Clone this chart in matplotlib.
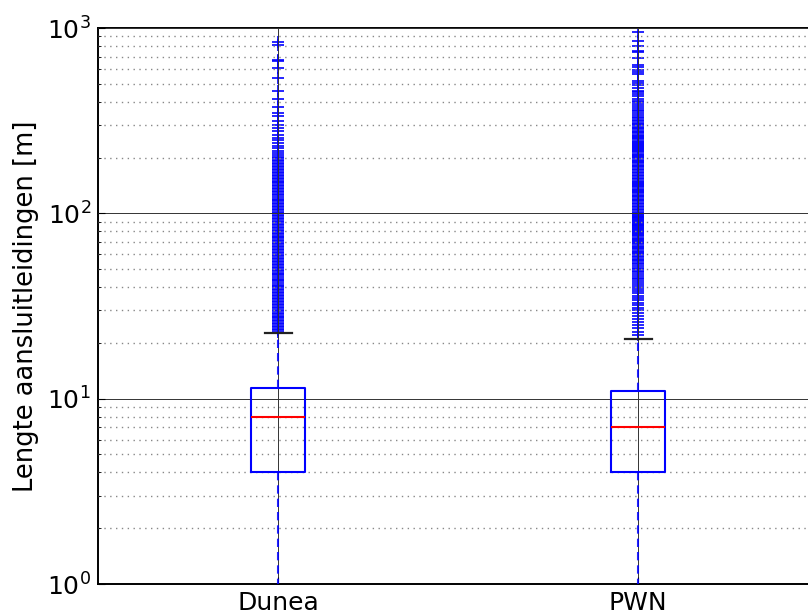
import matplotlib
matplotlib.use('Agg')
import matplotlib.pyplot as plt
from matplotlib.ticker import LogLocator, NullFormatter, FixedLocator

# ---------------- data ----------------
categories = ['Dunea', 'PWN']
medians = [8.0, 7.0]
q1 = [4.0, 4.0]
q3 = [11.4, 11.0]
whisker_low = [0.4, 0.4]
whisker_high = [22.6, 21.0]

fliers_dunea = [
    23.0, 23.4, 23.8, 24.3, 24.7, 25.2, 25.6, 26.1, 26.6, 27.1, 27.6, 28.1,
    28.6, 29.1, 29.7, 30.2, 30.8, 31.4, 32.0, 32.6, 33.2, 33.8, 34.4, 35.0,
    35.7, 36.3, 37.0, 37.7, 38.4, 39.1, 39.8, 40.6, 41.3, 42.1, 42.9, 43.7,
    44.5, 45.3, 46.2, 47.0, 47.9, 48.8, 49.7, 50.6, 51.6, 52.5, 53.5, 54.5,
    55.5, 56.5, 57.6, 58.6, 59.7, 60.8, 62.0, 63.1, 64.3, 65.5, 66.7, 68.0,
    69.2, 70.5, 71.8, 73.2, 74.5, 75.9, 77.3, 78.8, 80.2, 81.7, 83.2, 84.8,
    86.4, 88.0, 89.6, 91.3, 93.0, 94.7, 96.4, 98.2, 100, 102, 104, 106, 108,
    110, 112, 114, 116, 118, 120, 122, 125, 127, 130, 132, 135, 137, 140,
    142, 145, 148, 150, 153, 156, 159, 162, 165, 168, 171, 174, 177, 181,
    184, 188, 191, 195, 198, 202, 206,
    212, 218, 226, 232, 240, 248, 255, 266, 278, 289, 301, 315, 335, 348,
    375, 416, 459, 538, 609, 667, 675, 808, 841,
]

fliers_pwn = [
    22, 23, 24, 25, 26, 27, 28, 29, 30, 31, 32, 33, 34, 35, 36, 37, 38, 39,
    40, 41, 42, 43, 44, 45, 46, 47, 48, 49, 50, 51, 52, 53, 54, 55, 56, 57,
    58, 59, 60, 61, 62, 63, 64, 65, 66, 67, 68, 69, 70, 71, 72, 73, 74, 75,
    76, 77, 78, 79, 80, 81, 82, 83, 84, 85, 86, 87, 88, 89, 90, 91, 92, 93,
    94, 95, 96, 97, 98, 99, 100, 102, 104, 106, 108, 110, 112, 114, 116,
    118, 120, 122, 124, 126, 128, 130, 132, 134, 136, 138, 140, 142, 144,
    146, 148, 150, 153, 156, 159, 162, 165, 168, 171, 174, 177, 180, 183,
    186, 189, 192, 195, 198, 201, 204, 207, 210, 213, 216, 220,
    223, 226, 228, 231, 234, 237, 240, 244, 247, 251, 255, 258, 262, 266,
    270, 275, 279, 284, 289, 293, 298, 303, 309, 315, 320, 326, 333, 340,
    347, 355, 362, 370, 379, 388, 397, 406, 416, 427, 438, 450, 458,
    475, 491, 505, 520, 565, 580, 597, 615, 635, 690, 743, 755, 797, 855, 953,
]

fliers = [fliers_dunea, fliers_pwn]
ylabel = 'Lengte aansluitleidingen [m]'
ytick_values = [1, 10, 100, 1000]
ytick_labels = [r'$10^{0}$', r'$10^{1}$', r'$10^{2}$', r'$10^{3}$']

# ---------------- figure ----------------
W, H = 808, 611
fig = plt.figure(figsize=(W / 100, H / 100), dpi=100)
ax = fig.add_axes([98 / W, (H - 584) / H, 720 / W, 556 / H])

stats = []
for i, name in enumerate(categories):
    stats.append(dict(med=medians[i], q1=q1[i], q3=q3[i],
                      whislo=whisker_low[i], whishi=whisker_high[i],
                      fliers=fliers[i], label=name))

ax.bxp(stats, positions=[1, 2], widths=0.15, showfliers=True,
       boxprops=dict(color='blue', lw=1.5, zorder=3),
       medianprops=dict(color='red', lw=1.5, zorder=3),
       whiskerprops=dict(color='blue', lw=1.5, linestyle=(0, (4.0, 2.4)),
                         zorder=3, alpha=0.85),
       capprops=dict(color='#222222', lw=1.6, zorder=3),
       flierprops=dict(marker='+', markeredgecolor='blue', markersize=9,
                       markeredgewidth=1.2, linestyle='none'))

ax.set_yscale('log')
ax.set_ylim(1, 1000)
ax.set_xlim(0.5, 2.5)

ax.yaxis.set_major_locator(FixedLocator(ytick_values))
ax.set_yticklabels(ytick_labels)
ax.yaxis.set_minor_locator(LogLocator(base=10, subs=range(2, 10)))
ax.yaxis.set_minor_formatter(NullFormatter())

ax.set_axisbelow(False)
ax.grid(True, which='major', axis='both', color='#333333', lw=0.7, linestyle='-')
ax.yaxis.grid(True, which='minor', color='#888888', lw=1.0, linestyle=(0, (1, 3.2)))

ax.tick_params(axis='both', which='major', direction='in', labelsize=18, length=5)
ax.tick_params(axis='y', which='minor', direction='in', length=2.5)
ax.tick_params(axis='x', pad=5)
ax.tick_params(axis='y', pad=5)

for s in ax.spines.values():
    s.set_linewidth(1.4)
    s.set_color('black')

ax.set_ylabel(ylabel, fontsize=18.5)
ax.yaxis.set_label_coords(-0.082, 0.5)

fig.savefig('out.png', dpi=100)
